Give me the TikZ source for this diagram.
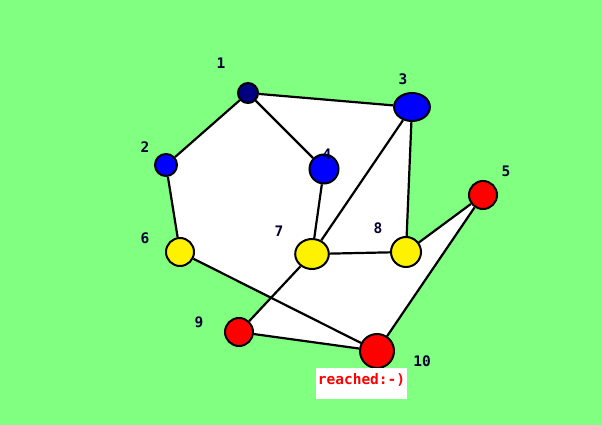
\documentclass[tikz,border=0pt]{standalone}
\usepackage{fontspec}
\setmonofont{DejaVu Sans Mono}
\usetikzlibrary{intersections}

\definecolor{lawn}{HTML}{80FF80}
\definecolor{navy}{HTML}{000080}

\tikzset{
	vertex/.style={draw=black, line width=2pt, circle, inner sep=0pt},
	num/.style={font=\ttfamily\bfseries\fontsize{14.5}{14.5}\selectfont, text=navy!40!black},
	edge/.style={line width=2.2pt}
}

\begin{document}
\begin{tikzpicture}[x=1pt,y=-1pt]

		\fill [lawn] (0,0) rectangle (602,425);
		\useasboundingbox (0,0) rectangle (602,425);

		\coordinate (P1) at (248,93);
		\coordinate (P2) at (166,165);
		\coordinate (P3) at (412,107);
		\coordinate (P4) at (324,169);
		\coordinate (P5) at (483,195);
		\coordinate (P6) at (180,252);
		\coordinate (P7) at (312,254);
		\coordinate (P8) at (406,252);
		\coordinate (P9) at (239,332);
		\coordinate (P10) at (377,351);

		\path [name path = SixTen] (P6)--(P10);
		\path [name path = SevenNine] (P7)--(P9);
		\path [name intersections={of=SixTen and SevenNine,by=X}];

		% white area
		\fill [white] (P1)--(P3)--(P8)--(P5)--(P10)--(P9)--(X)--(P6)--(P2)--cycle;

		\node [vertex, fill=navy, minimum size=20pt] (v1) at (P1) {};
		\node [vertex, fill=blue, minimum size=22pt] (v2) at (P2) {};
		\node [vertex, fill=blue, minimum size=28pt, xscale=1.28] (v3) at (P3) {};
		\node [vertex, fill=blue, minimum size=29pt] (v4) at (P4) {};
		\node [vertex, fill=red, minimum size=28pt] (v5) at (P5) {};
		\node [vertex, fill=yellow, minimum size=28pt] (v6) at (P6) {};
		\node [vertex, fill=yellow, minimum size=30pt, xscale=1.12] (v7) at (P7) {};
		\node [vertex, fill=yellow, minimum size=30pt] (v8) at (P8) {};
		\node [vertex, fill=red, minimum size=28pt] (v9) at (P9) {};
		\node [vertex, fill=red, minimum size=34pt] (v10) at (P10) {};

		\draw [edge] (v1)--(v2);
		\draw [edge] (v1)--(v3);
		\draw [edge] (v1)--(v4);
		\draw [edge] (v2)--(v6);
		\draw [edge] (v3)--(v7);
		\draw [edge] (v3)--(v8);
		\draw [edge] (v4)--(v7);
		\draw [edge] (v7)--(v8);
		\draw [edge] (v8)--(v5);
		\draw [edge] (v5)--(v10);
		\draw [edge] (v6)--(v10);
		\draw [edge] (v7)--(v9);
		\draw [edge] (v9)--(v10);

		\node [num] (l1) at (221,63) {1};
		\node [num] (l2) at (145,147) {2};
		\node [num] (l3) at (403,79) {3};
		\node [num] (l4) at (327,154) {4};
		\node [num] (l5) at (506,171) {5};
		\node [num] (l6) at (145,238) {6};
		\node [num] (l7) at (279,231) {7};
		\node [num] (l8) at (378,228) {8};
		\node [num] (l9) at (199,322) {9};
		\node [num] (l10) at (422,361) {10};

		\node [fill=white, text=red, font=\ttfamily\bfseries\fontsize{14.5}{14.5}\selectfont,
			minimum width=91pt, minimum height=31pt, text depth=12pt, text height=14pt,
			inner sep=0pt] (goal) at (361.5,383.5) {reached:-)};

\end{tikzpicture}
\end{document}
